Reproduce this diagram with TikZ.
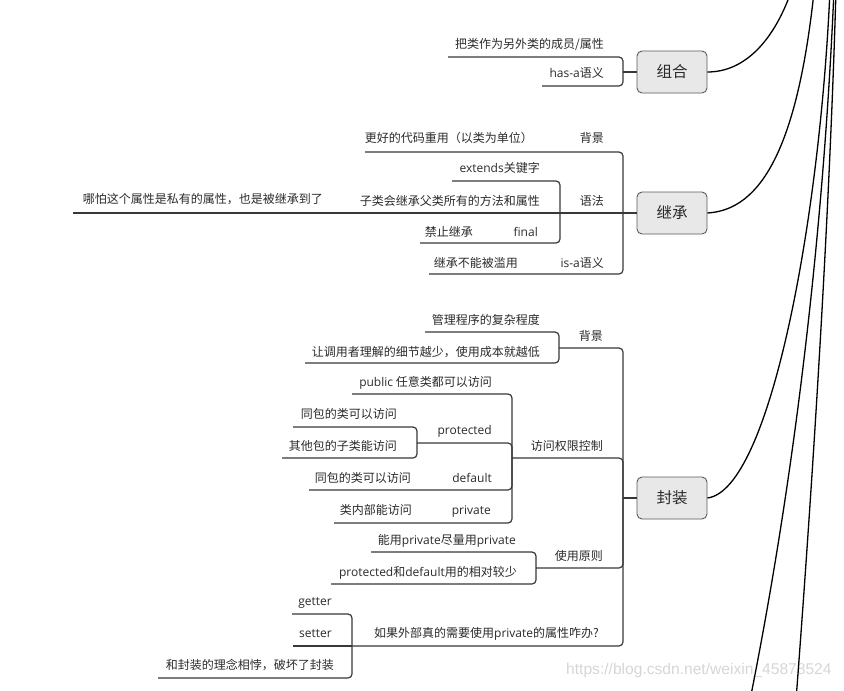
\documentclass[tikz,border=0pt]{standalone}
\usepackage{fontspec}
\setmainfont{Noto Sans CJK SC}
\newfontfamily\latfont{Open Sans}
\newfontfamily\wmfont{Liberation Sans}
\newcommand\enf[1]{{\latfont #1}}
\definecolor{txt}{HTML}{2A2A2A}
\definecolor{ln}{HTML}{383838}
\definecolor{boxfill}{HTML}{E8E8E8}
\definecolor{boxdraw}{HTML}{5A5A5A}
\definecolor{wm}{HTML}{D6D6D6}
\begin{document}
\begin{tikzpicture}[x=1pt,y=-1pt,
  lbl/.style={inner sep=0pt, anchor=base east, text=txt, font=\fontsize{12}{14}\selectfont},
  topic/.style={draw=boxdraw, fill=boxfill, rounded corners=5pt, line width=0.9pt,
    minimum width=70pt, minimum height=42pt, inner sep=0pt, text=txt,
    font=\fontsize{15.5}{18}\selectfont},
  br/.style={draw=ln, line width=1.2pt, rounded corners=4pt},
  trunk/.style={draw=black, line width=1.3pt}]
\useasboundingbox (0,0) rectangle (844,691);
\clip (0,0) rectangle (844,691);

% watermark
\node[anchor=west, inner sep=0pt, text=wm, font=\wmfont\fontsize{15.6}{18}\selectfont] (wmk) at (566,670) {https://blog.csdn.net/weixin\_45878524};

% ---------------- 组合 ----------------
\node[topic] (zh) at (672,72) {组合};
\coordinate (zhB) at (623,72);
\draw[br] (zh.west) -- (zhB);
\draw[br] (448,57) -- (623,57) -- (zhB);
\draw[br] (542,86) -- (623,86) -- (zhB);
\node[lbl] (zh1) at (604,48) {把类作为另外类的成员/属性};
\node[lbl] (zh2) at (604,77) {\enf{has-a}语义};

% ---------------- 继承 ----------------
\node[topic] (jc) at (672,213) {继承};
\coordinate (jcB) at (623,213);
\coordinate (yfB) at (560,213);
\draw[br] (jc.west) -- (yfB);
\draw[br] (365,152) -- (623,152) -- (jcB);
\draw[br] (429,274) -- (623,274) -- (jcB);
\draw[br] (452,181) -- (560,181) -- (yfB);
\draw[br] (420,243) -- (560,243) -- (yfB);
\draw[br] (73,213) -- (yfB);
\node[lbl] (jc1) at (604,142) {背景};
\node[lbl] (jc1a) at (533,142) {更好的代码重用（以类为单位）};
\node[lbl] (jc2) at (604,205) {语法};
\node[lbl] (jc2a) at (540,172) {\enf{extends}关键字};
\node[lbl] (jc2b) at (540,205) {子类会继承父类所有的方法和属性};
\node[lbl] (jc2b1) at (323,203) {哪怕这个属性是私有的属性，也是被继承到了};
\node[lbl] (jc2c) at (538,236) {\enf{final}};
\node[lbl] (jc2c1) at (473,236) {禁止继承};
\node[lbl] (jc3) at (604,267) {\enf{is-a}语义};
\node[lbl] (jc3a) at (518,267) {继承不能被滥用};

% ---------------- 封装 ----------------
\node[topic] (fz) at (672,498) {封装};
\coordinate (fzB) at (623,498);
\draw[br] (fz.west) -- (fzB);
% 背景
\coordinate (bjB) at (559,348);
\draw[br] (bjB) -- (623,348) -- (fzB);
\draw[br] (425,332) -- (559,332) -- (bjB);
\draw[br] (305,363) -- (559,363) -- (bjB);
\node[lbl] (fz1) at (603,340) {背景};
\node[lbl] (fz1a) at (540,324) {管理程序的复杂程度};
\node[lbl] (fz1b) at (540,356) {让调用者理解的细节越少，使用成本就越低};
% 访问权限控制
\coordinate (fwB) at (512,458);
\draw[br] (fwB) -- (623,458) -- (fzB);
\node[lbl] (fz2) at (603,450) {访问权限控制};
\draw[br] (352,394) -- (512,394) -- (fwB);
\node[lbl] (fz2a) at (492,386) {\enf{public} 任意类都可以访问};
\coordinate (ptB) at (417,443);
\draw[br] (ptB) -- (512,443) -- (fwB);
\node[lbl] (fz2b) at (492,434) {\enf{protected}};
\draw[br] (293,427) -- (417,427) -- (ptB);
\draw[br] (282,458) -- (417,458) -- (ptB);
\node[lbl] (fz2b1) at (397,418) {同包的类可以访问};
\node[lbl] (fz2b2) at (397,450) {其他包的子类能访问};
\draw[br] (309,490) -- (512,490) -- (fwB);
\node[lbl] (fz2c) at (492,482) {\enf{default}};
\node[lbl] (fz2c1) at (411,482) {同包的类可以访问};
\draw[br] (334,523) -- (512,523) -- (fwB);
\node[lbl] (fz2d) at (491,514) {\enf{private}};
\node[lbl] (fz2d1) at (412,514) {类内部能访问};
% 使用原则
\coordinate (syB) at (536,568);
\draw[br] (syB) -- (623,568) -- (fzB);
\node[lbl] (fz3) at (603,560) {使用原则};
\draw[br] (371,552) -- (536,552) -- (syB);
\draw[br] (331,584) -- (536,584) -- (syB);
\node[lbl] (fz3a) at (516,544) {能用\enf{private}尽量用\enf{private}};
\node[lbl] (fz3b) at (517,576) {\enf{protected}和\enf{default}用的相对较少};
% 如果外部...
\coordinate (rgB) at (352,646);
\draw[br] (rgB) -- (623,646) -- (fzB);
\node[lbl] (fz4) at (599,637) {如果外部真的需要使用\enf{private}的属性咋办?};
\draw[br] (292,614) -- (352,614) -- (rgB);
\draw[br] (293,646) -- (rgB);
\draw[br] (158,678) -- (352,678) -- (rgB);
\node[lbl] (fz4a) at (332,605) {\enf{getter}};
\node[lbl] (fz4b) at (332,637) {\enf{setter}};
\node[lbl] (fz4c) at (334,669) {和封装的理念相悖，破坏了封装};

% ---------------- trunk curves to the (off-page) centre ----------------
\coordinate (top1) at (791,-8);
\coordinate (top2) at (814,-8);
\coordinate (top3) at (830,-10);
\coordinate (top4) at (834,-10);
\coordinate (top5) at (836,-10);
\coordinate (bot4) at (750,700);
\coordinate (bot5) at (796,700);
\draw[trunk] (zh.east) .. controls (742,72) and (772,45) .. (top1);
\draw[trunk] (jc.east) .. controls (760,210) and (797,150) .. (top2);
\draw[trunk] (fz.east) .. controls (770,490) and (820,220) .. (top3);
\draw[trunk] (top4) .. controls (825,200) and (800,450) .. (bot4);
\draw[trunk] (top5) .. controls (830,200) and (815,450) .. (bot5);
\end{tikzpicture}
\end{document}
